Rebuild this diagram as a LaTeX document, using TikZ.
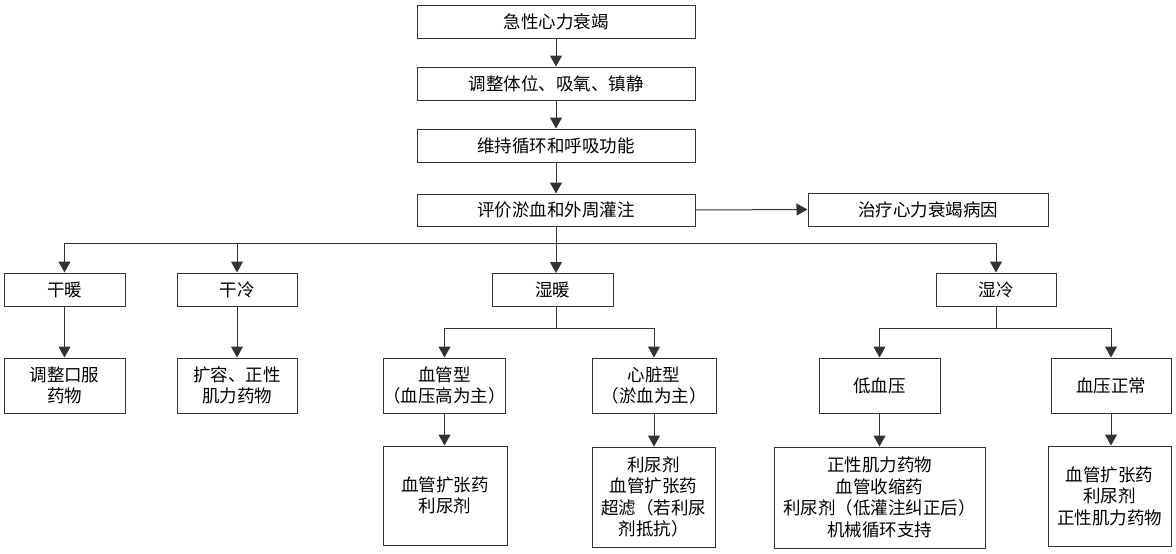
\documentclass[tikz,border=0pt]{standalone}
\usepackage{fontspec}
\setmainfont{Noto Sans CJK SC}
\usetikzlibrary{arrows.meta}
\definecolor{ln}{HTML}{333333}
\begin{document}
\begin{tikzpicture}[x=1pt,y=1pt,
  box/.style={draw=ln,line width=1pt,inner sep=0pt,align=center,
    font=\fontsize{17.5}{21.5}\selectfont,text=black},
  conn/.style={draw=ln,line width=1pt},
  arr/.style={conn,-{Triangle[width=12pt,length=11pt]}}]
\useasboundingbox (0,0) rectangle (1176,-554);
\node[box,minimum width=278,minimum height=33] (A) at (556,-21.5) {急性心力衰竭};
\node[box,minimum width=278,minimum height=33] (B) at (556,-83.5) {调整体位、吸氧、镇静};
\node[box,minimum width=278,minimum height=33] (C) at (556,-145.5) {维持循环和呼吸功能};
\node[box,minimum width=278,minimum height=32] (D) at (556,-210) {评价淤血和外周灌注};
\node[box,minimum width=240,minimum height=33] (E) at (928,-209.5) {治疗心力衰竭病因};
\node[box,minimum width=121,minimum height=33] (F) at (64.5,-289.5) {干暖};
\node[box,minimum width=120,minimum height=33] (G) at (237,-289.5) {干冷};
\node[box,minimum width=121,minimum height=33] (H) at (552.5,-289.5) {湿暖};
\node[box,minimum width=120,minimum height=33] (I) at (996,-289.5) {湿冷};
\node[box,minimum width=121,minimum height=55] (J) at (64.5,-385.5) {调整口服\\药物};
\node[box,minimum width=120,minimum height=55] (K) at (237,-385.5) {扩容、正性\\肌力药物};
\node[box,minimum width=121,minimum height=55] (L) at (444.5,-385.5) {血管型\\（血压高为主）};
\node[box,minimum width=124,minimum height=55] (M) at (654,-385.5) {心脏型\\（淤血为主）};
\node[box,minimum width=124,minimum height=99] (N) at (445,-495.5) {血管扩张药\\利尿剂};
\node[box,minimum width=123,minimum height=100] (O) at (653.5,-497) {利尿剂\\血管扩张药\\超滤（若利尿\\剂抵抗）};
\node[box,minimum width=121,minimum height=55] (P) at (879.5,-385.5) {低血压};
\node[box,minimum width=120,minimum height=55] (Q) at (1111,-385.5) {血压正常};
\node[box,minimum width=211,minimum height=101] (R) at (879.5,-497.5) {正性肌力药物\\血管收缩药\\利尿剂（低灌注纠正后）\\机械循环支持};
\node[box,minimum width=123,minimum height=100] (S) at (1109.5,-496) {血管扩张药\\利尿剂\\正性肌力药物};
% top chain
\draw[arr] (A.south) -- (B.north);
\draw[arr] (B.south) -- (C.north);
\draw[arr] (C.south) -- (D.north);
\draw[arr] (D.east) -- (E.west);
% main bus
\coordinate (bus) at (556,-243);
\draw[conn] (D.south) -- (bus);
\draw[conn] (F.north |- bus) -- (I.north |- bus);
\draw[arr] (F.north |- bus) -- (F.north);
\draw[arr] (G.north |- bus) -- (G.north);
\draw[arr] (bus) -- (556,-273);
\draw[arr] (I.north |- bus) -- (I.north);
\draw[arr] (F.south) -- (J.north);
\draw[arr] (G.south) -- (K.north);
% wet-warm branch
\coordinate (bw) at (556,-328);
\draw[conn] (556,-306) -- (bw);
\draw[conn] (L.north |- bw) -- (M.north |- bw);
\draw[arr] (L.north |- bw) -- (L.north);
\draw[arr] (M.north |- bw) -- (M.north);
\draw[arr] (L.south) -- (L.south |- N.north);
\draw[arr] (M.south) -- (M.south |- O.north);
% wet-cold branch
\coordinate (bc) at (996,-328);
\draw[conn] (I.south) -- (bc);
\draw[conn] (P.north |- bc) -- (Q.north |- bc);
\draw[arr] (P.north |- bc) -- (P.north);
\draw[arr] (Q.north |- bc) -- (Q.north);
\draw[arr] (P.south) -- (P.south |- R.north);
\draw[arr] (Q.south) -- (Q.south |- S.north);
\end{tikzpicture}
\end{document}
